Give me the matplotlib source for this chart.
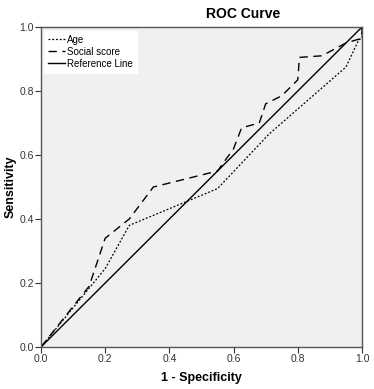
import matplotlib
matplotlib.use("Agg")
import matplotlib.pyplot as plt

age_x = [0.0, 0.20, 0.275, 0.55, 0.71, 0.95, 0.99, 1.0, 1.0]
age_y = [0.0, 0.245, 0.38, 0.495, 0.665, 0.875, 0.96, 0.965, 1.0]

soc_x = [0.0, 0.15, 0.20, 0.275, 0.35, 0.55, 0.60, 0.625, 0.68, 0.70, 0.75, 0.80, 0.805, 0.875, 0.95, 1.0, 1.0]
soc_y = [0.0, 0.19, 0.34, 0.40, 0.50, 0.55, 0.62, 0.685, 0.70, 0.76, 0.785, 0.835, 0.905, 0.91, 0.95, 0.965, 1.0]

ref_x = [0.0, 1.0]
ref_y = [0.0, 1.0]

ticks = [0.0, 0.2, 0.4, 0.6, 0.8, 1.0]
tick_labels = ["0.0", "0.2", "0.4", "0.6", "0.8", "1.0"]

plt.rcParams['font.family'] = ['Liberation Sans', 'DejaVu Sans']

fig = plt.figure(figsize=(3.74, 3.89), dpi=100)
ax = fig.add_axes([41/374, 42/389, 321/374, 320/389])
ax.set_facecolor('#f0f0f0')

ax.plot(age_x, age_y, color='black', lw=0.9, linestyle=(0, (1.5, 1.5)), label='Age')
ax.plot(soc_x, soc_y, color='black', lw=1.0, linestyle=(0, (6, 4)), label='Social score')
ax.plot(ref_x, ref_y, color='black', lw=1.0, label='Reference Line')

ax.set_xlim(0, 1)
ax.set_ylim(0, 1)
ax.set_xticks(ticks)
ax.set_xticklabels(tick_labels)
ax.set_yticks(ticks)
ax.set_yticklabels(tick_labels)
ax.tick_params(direction='out', length=4, width=0.8, labelsize=7.5, colors='#333333', pad=1)
for s in ax.spines.values():
    s.set_color('#555555')
    s.set_linewidth(1.0)

ax.set_xlabel('1 - Specificity', fontsize=9, fontweight='bold')
ax.set_ylabel('Sensitivity', fontsize=9, fontweight='bold')
ax.xaxis.set_label_coords(0.5, -31/320)
ax.yaxis.set_label_coords(-30/321, 0.5)
ax.xaxis.label.set_va('center')
ax.yaxis.label.set_va('center')
fig.text(243/374, 1 - 14/389, 'ROC Curve', fontsize=10, fontweight='bold', ha='center', va='center')

leg = ax.legend(loc='upper left', bbox_to_anchor=(3/321, 1 - 4/320), fontsize=7, frameon=True,
                fancybox=False, framealpha=1, edgecolor='white', facecolor='white',
                handlelength=1.8, handletextpad=0.2, borderpad=0.4, labelspacing=0.2, borderaxespad=0)

fig.savefig('out.png', dpi=100)
